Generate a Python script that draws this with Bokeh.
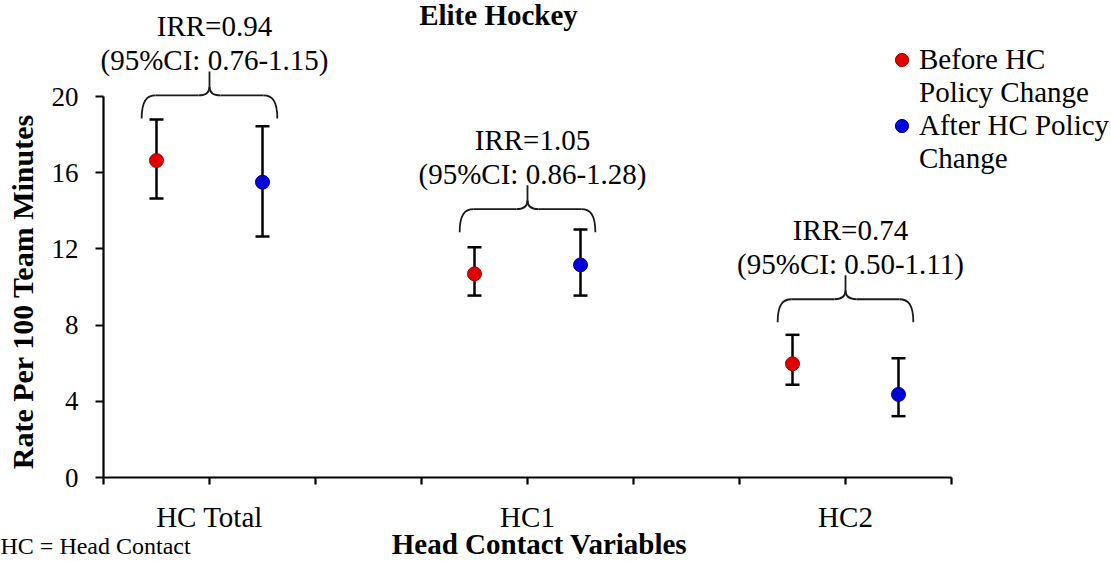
import math
from bokeh.plotting import figure
from bokeh.models import (Range1d, FixedTicker, Whisker, TeeHead, ColumnDataSource,
                          Legend, LegendItem, Label)
from bokeh.core.properties import value
from bokeh.embed import file_html
from bokeh.resources import INLINE

# ---------------- data ----------------
categories = ["HC Total", "HC1", "HC2"]
before_rate = [16.64, 10.69, 5.97]
before_lower = [14.65, 9.55, 4.87]
before_upper = [18.79, 12.09, 7.49]
after_rate = [15.50, 11.16, 4.36]
after_lower = [12.65, 9.55, 3.22]
after_upper = [18.44, 13.02, 6.26]
irr = ["0.94", "1.05", "0.74"]
irr_ci_low = ["0.76", "0.86", "0.50"]
irr_ci_high = ["1.15", "1.28", "1.11"]
y_ticks = [0, 4, 8, 12, 16, 20]
brace_y = [18.85, 12.88, 8.15]   # annotation anchors (bottom of each brace)

# ---------------- layout ----------------
W, H = 1111, 561
AX_X, AX_Y = 103, 477          # pixel position of the axes origin
PX_X = 106.0                   # pixels per x unit
PX_Y = 19.05                   # pixels per y unit
ux, uy = 1.0 / PX_X, 1.0 / PX_Y
FONT = "Liberation Serif"


def px2x(px):
    return (px - AX_X) / PX_X


def px2y(py):
    return (AX_Y - py) / PX_Y


cat_x = [1 + 3 * i for i in range(len(categories))]
before_x = [c - 0.5 for c in cat_x]
after_x = [c + 0.5 for c in cat_x]

p = figure(width=W, height=H,
           x_range=Range1d(px2x(0), px2x(W)), y_range=Range1d(px2y(H), px2y(0)),
           output_backend="svg", toolbar_location=None,
           min_border_left=0, min_border_right=0, min_border_top=0, min_border_bottom=0)
p.outline_line_color = None
p.xgrid.visible = False
p.ygrid.visible = False
p.background_fill_color = "white"
p.border_fill_color = "white"

# ---- axes (drawn at the data origin) ----
xa = p.xaxis[0]
xa.fixed_location = 0
xa.bounds = (0, 8)
xa.ticker = FixedTicker(ticks=list(range(0, 9)))
overrides = {t: "" for t in range(0, 9)}
for c, name in zip(cat_x, categories):
    overrides[c] = name
xa.major_label_overrides = overrides
xa.axis_line_width = 2.2
xa.axis_line_color = "black"
xa.major_tick_line_width = 2.2
xa.major_tick_line_color = "black"
xa.major_tick_out = 7
xa.major_tick_in = 0
xa.minor_tick_line_color = None
xa.major_label_text_font = FONT
xa.major_label_text_font_size = "29px"
xa.major_label_text_color = "black"
xa.major_label_standoff = 16

ya = p.yaxis[0]
ya.fixed_location = 0
ya.bounds = (0, 20)
ya.ticker = FixedTicker(ticks=y_ticks)
ya.axis_line_width = 2.2
ya.axis_line_color = "black"
ya.major_tick_line_width = 2.2
ya.major_tick_line_color = "black"
ya.major_tick_out = 8
ya.major_tick_in = 0
ya.minor_tick_line_color = None
ya.major_label_text_font = FONT
ya.major_label_text_font_size = "27px"
ya.major_label_text_color = "black"
ya.major_label_standoff = 17

# axis titles
p.add_layout(Label(x=px2x(22), y=px2y(291), angle=math.pi / 2,
                   text="Rate Per 100 Team Minutes", text_align="center",
                   text_baseline="middle", text_font=FONT, text_font_size="30px",
                   text_font_style="bold", text_color="black"))
p.add_layout(Label(x=px2x(539), y=px2y(543), text="Head Contact Variables",
                   text_align="center", text_baseline="alphabetic", text_font=FONT,
                   text_font_size="29px", text_font_style="bold", text_color="black"))

# ---- error bars ----
for xs, lo, hi in ((before_x, before_lower, before_upper), (after_x, after_lower, after_upper)):
    src = ColumnDataSource(dict(x=xs, lower=lo, upper=hi))
    w = Whisker(source=src, base="x", lower="lower", upper="upper",
                line_color="black", line_width=2.5, level="underlay",
                upper_head=TeeHead(size=14, line_width=2.5, line_color="black"),
                lower_head=TeeHead(size=14, line_width=2.5, line_color="black"))
    p.add_layout(w)

# ---- points ----
r_before = p.scatter(before_x, before_rate, size=14, fill_color="#e00000",
                     line_color="#a00000", line_width=1)
r_after = p.scatter(after_x, after_rate, size=14, fill_color="#0000d8",
                    line_color="#000090", line_width=1)
# invisible renderer used only for the wrapped second line of each legend label
r_wrap = p.scatter(x=[], y=[], size=1, fill_alpha=0, line_alpha=0)

# ---- braces ----
HW = 0.64
R = 14 * ux
bz = dict(x0=[], y0=[], x1=[], y1=[], cx0=[], cy0=[], cx1=[], cy1=[])
sg = dict(x0=[], y0=[], x1=[], y1=[])
stem_top = []


def add_bz(a, b, c0, c1):
    bz["x0"].append(a[0]); bz["y0"].append(a[1])
    bz["x1"].append(b[0]); bz["y1"].append(b[1])
    bz["cx0"].append(c0[0]); bz["cy0"].append(c0[1])
    bz["cx1"].append(c1[0]); bz["cy1"].append(c1[1])


def add_sg(a, b):
    sg["x0"].append(a[0]); sg["y0"].append(a[1])
    sg["x1"].append(b[0]); sg["y1"].append(b[1])


for xc, yb in zip(cat_x, brace_y):
    yh = yb + 23 * uy
    ytip = yh + 9 * uy
    ytop = yb + 47 * uy
    stem_top.append(ytop)
    for s in (-1, 1):
        xe = xc + s * HW
        add_bz((xe, yb), (xe - s * R, yh), (xe, yb + 0.75 * (yh - yb)), (xe - s * 0.35 * R, yh))
        add_sg((xe - s * R, yh), (xc + s * 11 * ux, yh))
        add_bz((xc + s * 11 * ux, yh), (xc, ytip), (xc + s * 3 * ux, yh), (xc, yh + 3 * uy))
    add_sg((xc, ytip), (xc, ytop))

p.bezier(x0="x0", y0="y0", x1="x1", y1="y1", cx0="cx0", cy0="cy0", cx1="cx1", cy1="cy1",
         source=ColumnDataSource(bz), line_color="#1a1a1a", line_width=1.8)
p.segment(x0="x0", y0="y0", x1="x1", y1="y1", source=ColumnDataSource(sg),
          line_color="#1a1a1a", line_width=1.8)

# ---- IRR annotations ----
irr_text = ["IRR=" + v for v in irr]
ci_text = ["(95%CI: " + a + "-" + b + ")" for a, b in zip(irr_ci_low, irr_ci_high)]
p.text(x=cat_x, y=stem_top, text=ci_text, text_align="center", text_baseline="alphabetic",
       x_offset=5, y_offset=-11, text_font=value(FONT), text_font_size="29px",
       text_color="black")
p.text(x=cat_x, y=stem_top, text=irr_text, text_align="center", text_baseline="alphabetic",
       x_offset=5, y_offset=-45, text_font=value(FONT), text_font_size="29px",
       text_color="black")

# ---- legend ----
legend = Legend(items=[LegendItem(label="Before HC", renderers=[r_before]),
                       LegendItem(label="Policy Change", renderers=[r_wrap]),
                       LegendItem(label="After HC Policy", renderers=[r_after]),
                       LegendItem(label="Change", renderers=[r_wrap])],
                location=(885, 386), orientation="vertical",
                border_line_color=None, background_fill_alpha=0,
                padding=0, margin=0, spacing=0,
                glyph_width=33, glyph_height=33, label_height=33, label_standoff=1,
                label_text_font=FONT, label_text_font_size="29px",
                label_text_color="black")
p.add_layout(legend)

# ---- title & footnote ----
p.add_layout(Label(x=px2x(498), y=px2y(14), text="Elite Hockey", text_align="center",
                   text_baseline="alphabetic", text_font=FONT, text_font_size="29px",
                   text_font_style="bold", text_color="black"))
p.add_layout(Label(x=px2x(0), y=px2y(545), text="HC = Head Contact", text_align="left",
                   text_baseline="alphabetic", text_font=FONT, text_font_size="24px",
                   text_color="black"))

open("out.html", "w").write(file_html(p, INLINE))
